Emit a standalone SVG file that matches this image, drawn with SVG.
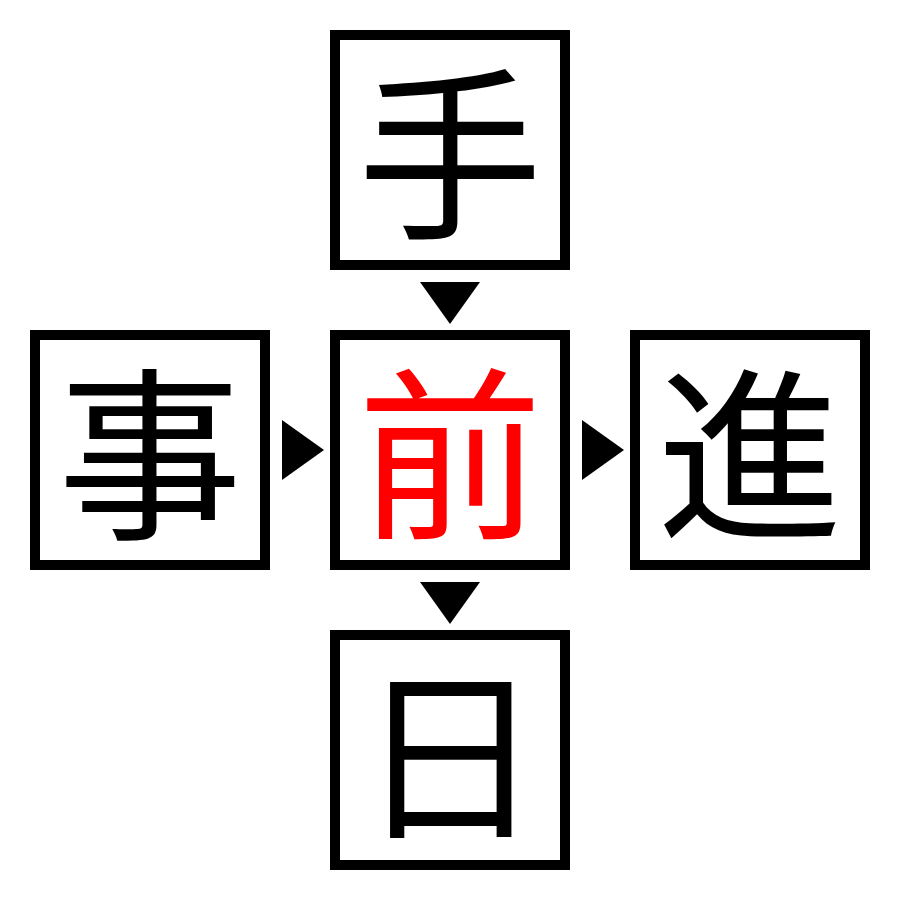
<svg xmlns="http://www.w3.org/2000/svg" width="900" height="900" viewBox="0 0 900 900">
<style>
.box{fill:#fff;stroke:#000;stroke-width:10}
.t{font-family:"Noto Sans CJK JP","Noto Sans CJK SC",sans-serif;font-size:185px;text-anchor:middle;dominant-baseline:central;fill:#000}
.red{fill:#f00}
.arr{fill:#000}
</style>
<rect width="900" height="900" fill="#fff"/>
<g id="node-te"><rect class="box" x="335" y="35" width="230" height="230"/><text class="t" x="450" y="144">手</text></g>
<g id="node-ji"><rect class="box" x="35" y="335" width="230" height="230"/><text class="t" x="150" y="444">事</text></g>
<g id="node-mae"><rect class="box" x="335" y="335" width="230" height="230"/><text class="t red" x="450" y="444">前</text></g>
<g id="node-shin"><rect class="box" x="635" y="335" width="230" height="230"/><text class="t" x="750" y="444">進</text></g>
<g id="node-hi"><rect class="box" x="335" y="635" width="230" height="230"/><text class="t" x="450" y="744">日</text></g>
<g id="connectors">
<polygon class="arr" points="420,282 480,282 450,324"/>
<polygon class="arr" points="282,420 282,480 324,450"/>
<polygon class="arr" points="582,420 582,480 624,450"/>
<polygon class="arr" points="420,582 480,582 450,624"/>
</g>
</svg>
